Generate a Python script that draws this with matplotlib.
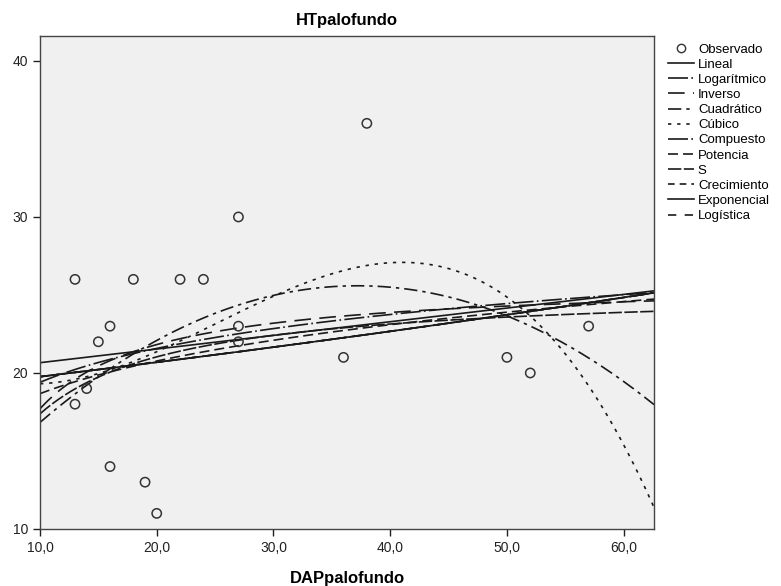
import numpy as np
import matplotlib
matplotlib.use("Agg")
import matplotlib.pyplot as plt
from matplotlib.lines import Line2D

plt.rcParams['font.family'] = ['Liberation Sans', 'DejaVu Sans']

dap = [13, 13, 14, 15, 16, 16, 18, 19, 20, 22, 24, 27, 27, 27, 36, 38, 50, 52, 57]
ht = [26, 18, 19, 22, 23, 14, 26, 13, 11, 26, 26, 30, 23, 22, 21, 36, 21, 20, 23]

models = ['Lineal', 'Logarítmico', 'Inverso', 'Cuadrático', 'Cúbico', 'Compuesto',
          'Potencia', 'S', 'Crecimiento', 'Exponencial', 'Logística']
styles = {
    'Lineal': '-',
    'Logarítmico': (0, (12, 2, 1, 2)),
    'Inverso': (0, (10, 5)),
    'Cuadrático': (0, (8, 3, 2, 3)),
    'Cúbico': (0, (2, 3.5)),
    'Compuesto': (0, (12, 2, 1, 2)),
    'Potencia': (0, (6, 3)),
    'S': (0, (8, 1.5)),
    'Crecimiento': (0, (4, 3)),
    'Exponencial': '-',
    'Logística': (0, (5, 5)),
}


def fit_curve(name, x, y, xs):
    ly = np.log(y)
    if name == 'Lineal':
        return np.polyval(np.polyfit(x, y, 1), xs)
    if name == 'Logarítmico':
        return np.polyval(np.polyfit(np.log(x), y, 1), np.log(xs))
    if name == 'Inverso':
        return np.polyval(np.polyfit(1 / x, y, 1), 1 / xs)
    if name == 'Cuadrático':
        return np.polyval(np.polyfit(x, y, 2), xs)
    if name == 'Cúbico':
        return np.polyval(np.polyfit(x, y, 3), xs)
    if name == 'Potencia':
        return np.exp(np.polyval(np.polyfit(np.log(x), ly, 1), np.log(xs)))
    if name == 'S':
        return np.exp(np.polyval(np.polyfit(1 / x, ly, 1), 1 / xs))
    # Compuesto, Crecimiento, Exponencial, Logística (no upper bound)
    return np.exp(np.polyval(np.polyfit(x, ly, 1), xs))


x = np.array(dap, dtype=float)
y = np.array(ht, dtype=float)
xs = np.linspace(10, 62.6, 300)

fig = plt.figure(figsize=(7.81, 5.86), dpi=100)
ax = fig.add_axes([0.0512, 0.0973, 0.7862, 0.8413])
ax.set_facecolor('#f0f0f0')

handles = [Line2D([], [], marker='o', linestyle='none', markerfacecolor='none',
                  markeredgecolor='#333333', markersize=6, label='Observado')]
for m in models:
    ax.plot(xs, fit_curve(m, x, y, xs), color='#1a1a1a', lw=1.2, linestyle=styles[m])
    handles.append(Line2D([], [], color='#1a1a1a', lw=1.2, linestyle=styles[m], label=m))

ax.scatter(dap, ht, s=45, facecolors='none', edgecolors='#333333', linewidths=1.1, zorder=5)

ax.set_xlim(10, 62.6)
ax.set_ylim(10, 41.6)
ax.set_xticks([10, 20, 30, 40, 50, 60])
ax.set_xticklabels(['10,0', '20,0', '30,0', '40,0', '50,0', '60,0'])
ax.set_yticks([10, 20, 30, 40])
ax.tick_params(direction='out', length=5, width=1, labelsize=10, colors='#222222')
for s in ax.spines.values():
    s.set_color('#444444')
    s.set_linewidth(1)

ax.set_title('HTpalofundo', fontsize=12, fontweight='bold', pad=8)
ax.set_xlabel('DAPpalofundo', fontsize=12, fontweight='bold', labelpad=12)

fig.legend(handles=handles, loc='upper left', bbox_to_anchor=(0.848, 0.935),
           frameon=False, fontsize=9.5, handlelength=2.0, handletextpad=0.3,
           labelspacing=0.22, borderaxespad=0)

fig.savefig('out.png', dpi=100)
